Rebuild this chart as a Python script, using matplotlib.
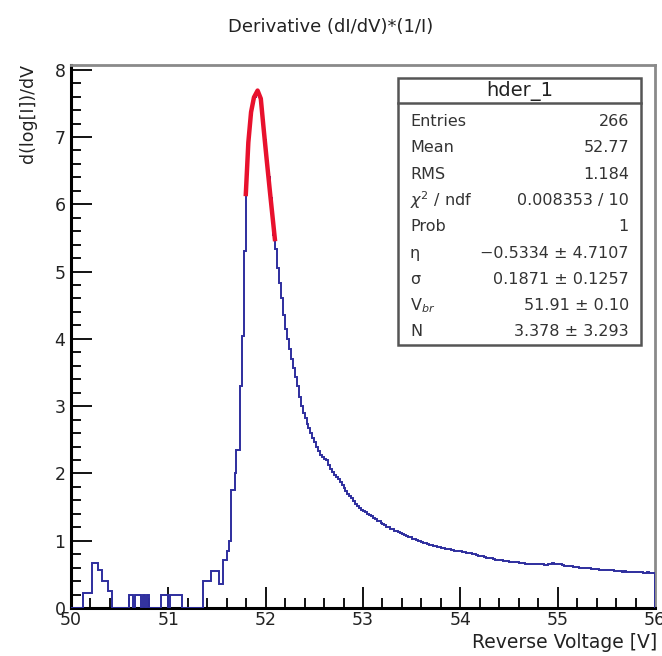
import numpy as np
import matplotlib
matplotlib.use('Agg')
import matplotlib.pyplot as plt
from matplotlib.patches import Rectangle
from matplotlib.lines import Line2D

plt.rcParams['font.family'] = ['DejaVu Sans']

# Histogram: 300 bins of 0.02 V from 50 to 56
X_START = 50.0
BIN_W = 0.02
counts = [
    # 50.00 - 50.60
    0, 0, 0, 0, 0, 0, 0.22, 0.22, 0.22, 0.22,
    0.22, 0.67, 0.67, 0.67, 0.57, 0.57, 0.40, 0.40, 0.40, 0.25,
    0.25, 0, 0, 0, 0, 0, 0, 0, 0, 0,
    # 50.60 - 51.00
    0.2, 0.2, 0, 0.2, 0.2, 0.2, 0, 0.2, 0, 0.2,
    0, 0, 0, 0, 0, 0, 0.2, 0.2, 0.2, 0.2,
    # 51.00 - 51.60
    0, 0.2, 0.2, 0.2, 0.2, 0.2, 0.2, 0, 0, 0,
    0, 0, 0, 0, 0, 0, 0, 0, 0.4, 0.4,
    0.4, 0.4, 0.55, 0.55, 0.55, 0.55, 0.35, 0.35, 0.72, 0.72,
    # 51.60 - 52.00
    0.85, 1.0, 1.75, 1.75, 2.0, 2.35, 2.35, 3.3, 4.04, 5.3,
    6.45, 7.0, 7.33, 7.5, 7.6, 7.66, 7.64, 7.55, 7.25, 6.95,
    # 52.00 - 53.00
    6.65, 6.4, 6.1, 5.8, 5.55, 5.33, 5.05, 4.83, 4.6, 4.35,
    4.15, 4.0, 3.85, 3.7, 3.57, 3.44, 3.3, 3.14, 3.0, 2.9,
    2.82, 2.74, 2.68, 2.6, 2.53, 2.47, 2.4, 2.33, 2.28, 2.24,
    2.22, 2.2, 2.12, 2.07, 2.02, 1.98, 1.95, 1.92, 1.87, 1.83,
    1.78, 1.74, 1.70, 1.67, 1.63, 1.59, 1.55, 1.52, 1.49, 1.46,
    # 53.00 - 54.00
    1.44, 1.42, 1.40, 1.38, 1.36, 1.34, 1.32, 1.30, 1.29, 1.27,
    1.25, 1.23, 1.21, 1.20, 1.18, 1.17, 1.15, 1.14, 1.13, 1.12,
    1.10, 1.09, 1.07, 1.06, 1.05, 1.03, 1.02, 1.01, 1.00, 0.99,
    0.98, 0.97, 0.96, 0.95, 0.94, 0.93, 0.92, 0.92, 0.91, 0.90,
    0.89, 0.89, 0.88, 0.88, 0.87, 0.86, 0.86, 0.85, 0.85, 0.84,
    # 54.00 - 55.00
    0.84, 0.83, 0.83, 0.82, 0.82, 0.81, 0.80, 0.80, 0.79, 0.78,
    0.77, 0.77, 0.76, 0.75, 0.75, 0.74, 0.74, 0.73, 0.72, 0.72,
    0.71, 0.71, 0.70, 0.70, 0.70, 0.69, 0.69, 0.68, 0.68, 0.68,
    0.67, 0.67, 0.67, 0.66, 0.66, 0.66, 0.65, 0.66, 0.65, 0.65,
    0.65, 0.66, 0.65, 0.64, 0.64, 0.65, 0.66, 0.67, 0.66, 0.65,
    # 55.00 - 56.00
    0.66, 0.66, 0.64, 0.63, 0.63, 0.62, 0.62, 0.62, 0.61, 0.61,
    0.61, 0.60, 0.60, 0.60, 0.59, 0.59, 0.59, 0.58, 0.58, 0.58,
    0.58, 0.57, 0.57, 0.57, 0.57, 0.56, 0.56, 0.56, 0.56, 0.55,
    0.55, 0.55, 0.55, 0.54, 0.55, 0.54, 0.54, 0.54, 0.54, 0.53,
    0.53, 0.53, 0.53, 0.53, 0.52, 0.52, 0.53, 0.52, 0.52, 0.52,
]

# Fit curve
fit_v = [51.795, 51.822, 51.85, 51.88, 51.917, 51.95, 51.976, 52.01, 52.045, 52.097]
fit_y = [6.12, 6.92, 7.37, 7.59, 7.69, 7.57, 7.17, 6.67, 6.17, 5.45]

# Stats box
stat_names = ['Entries', 'Mean', 'RMS', r'$\chi^{2}$ / ndf', 'Prob',
              '\u03b7', '\u03c3', r'V$_{br}$', 'N']
stat_vals = ['266', '52.77', '1.184', '0.008353 / 10', '1',
             '\u22120.5334 \u00b1 4.7107', '0.1871 \u00b1 0.1257',
             '51.91 \u00b1 0.10', '3.378 \u00b1 3.293']

W, H = 662, 656
fig = plt.figure(figsize=(W / 100, H / 100), dpi=100)


def fx(px):
    return px / W


def fy(py):
    return 1 - py / H


ax = fig.add_axes([fx(71), fy(608), fx(655) - fx(71), fy(65) - fy(608)])

edges = X_START + BIN_W * np.arange(len(counts) + 1)
ax.stairs(counts, edges, baseline=0, color='#2e2e9e', lw=1.4, zorder=3)
ax.plot(fit_v, fit_y, color='#e8112d', lw=3.2, solid_capstyle='butt', zorder=4)

ax.set_xlim(50, 56)
ax.set_ylim(0, 8.07)
ax.set_xticks(np.arange(50, 57, 1))
ax.set_xticks(np.arange(50, 56.01, 0.2), minor=True)
ax.set_yticks(np.arange(0, 9, 1))
ax.set_yticks(np.arange(0, 8.01, 0.2), minor=True)
ax.tick_params(which='both', direction='in', top=False, right=False,
               width=1.3, color='black', labelsize=12.5, labelcolor='#222')
ax.tick_params(which='major', length=15)
ax.tick_params(which='minor', length=7)
ax.tick_params(axis='x', pad=2)
ax.tick_params(axis='y', pad=4)

for s in ['left', 'bottom']:
    ax.spines[s].set_linewidth(2.2)
    ax.spines[s].set_color('black')
for s in ['top', 'right']:
    ax.spines[s].set_linewidth(2.0)
    ax.spines[s].set_color('#8a8a8a')

fig.text(0.5, fy(27), 'Derivative (dI/dV)*(1/I)', ha='center', va='center',
         fontsize=13, color='#222')
fig.text(fx(28), fy(64), 'd(log[I])/dV', rotation=90, ha='center', va='top',
         fontsize=12.5, color='#222')
fig.text(fx(657), fy(642), 'Reverse Voltage [V]', ha='right', va='center',
         fontsize=13.5, color='#222')

# Stats box
bx0, bx1, by0, by1 = 398, 641, 78, 345
fig.patches.append(Rectangle((fx(bx0), fy(by1)), fx(bx1) - fx(bx0), fy(by0) - fy(by1),
                             transform=fig.transFigure, facecolor='white',
                             edgecolor='#555', lw=1.8, zorder=5))
fig.lines.append(Line2D([fx(bx0), fx(bx1)], [fy(103), fy(103)],
                        transform=fig.transFigure, color='#555', lw=1.8, zorder=6))
fig.text(fx((bx0 + bx1) / 2), fy(91), 'hder_1', ha='center', va='center',
         fontsize=14, color='#222', zorder=7)
for i, (name, val) in enumerate(zip(stat_names, stat_vals)):
    yy = fy(121.5 + 26.3 * i)
    fig.text(fx(410), yy, name, ha='left', va='center', fontsize=11.5,
             color='#333', zorder=7)
    fig.text(fx(629), yy, val, ha='right', va='center', fontsize=11.5,
             color='#333', zorder=7)

fig.savefig('out.png', dpi=100)
